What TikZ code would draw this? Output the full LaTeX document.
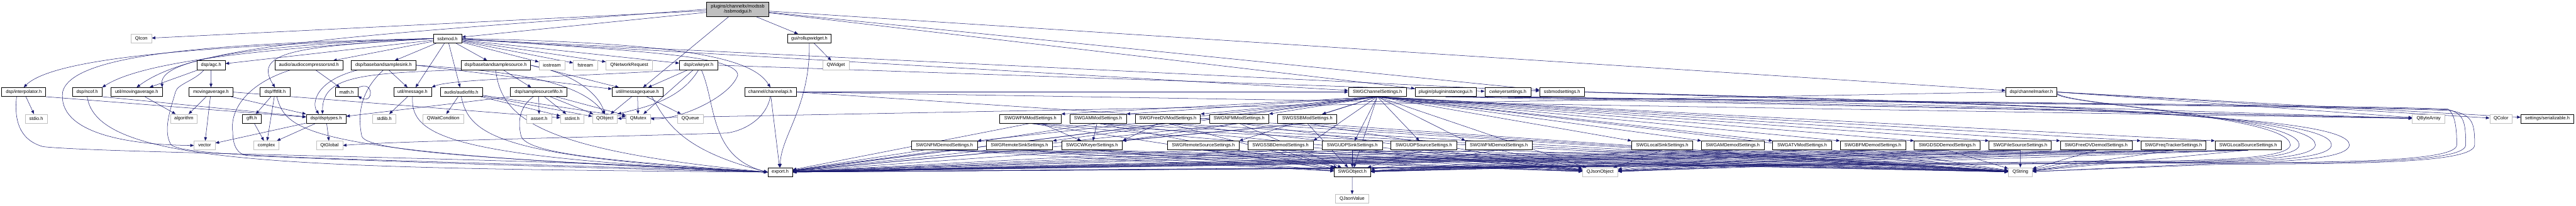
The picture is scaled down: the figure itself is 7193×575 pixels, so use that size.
\documentclass[tikz,border=0pt]{standalone}
\usepackage{fontspec}
\setmainfont{Liberation Sans}
\usetikzlibrary{arrows.meta,backgrounds}
\definecolor{edgec}{HTML}{191970}
\definecolor{extc}{HTML}{BFBFBF}
\newcommand{\dxfont}{\fontsize{13pt}{15.4pt}\selectfont}
\begin{document}
\begin{tikzpicture}[x=1pt,y=-1pt,
 filebox/.style={draw=black, fill=white, line width=1.1pt, minimum height=25pt, inner xsep=0pt, inner ysep=0pt, font=\dxfont, text=black},
 extbox/.style={filebox, draw=extc},
 rootbox/.style={filebox, fill=extc, minimum height=40.3pt, align=center},
 dep/.style={draw=edgec, line width=0.9pt, -{Triangle[length=10pt,width=8pt]}}]
\useasboundingbox (0,0) rectangle (7193,575);
% row 0
\node[rootbox, minimum width=174pt] (gui) at (2060,25.7) {plugins/channeltx/modssb\\/ssbmodgui.h};
% row 1
\node[extbox, minimum width=57pt] (qicon) at (394.5,107.8) {QIcon};
\node[filebox, minimum width=79pt] (ssbmod) at (1249.5,107.8) {ssbmod.h};
\node[filebox, minimum width=122pt] (rollup) at (2260,107.8) {gui/rollupwidget.h};
% row 2
\node[filebox, minimum width=79pt] (agc) at (589.5,182.4) {dsp/agc.h};
\node[filebox, minimum width=189pt] (acomp) at (862.5,182.4) {audio/audiocompressorsnd.h};
\node[filebox, minimum width=180pt] (bbsink) at (1071,182.4) {dsp/basebandsamplesink.h};
\node[filebox, minimum width=194pt] (bbsrc) at (1384,182.4) {dsp/basebandsamplesource.h};
\node[extbox, minimum width=72pt] (iostream) at (1541,182.4) {iostream};
\node[extbox, minimum width=67pt] (fstream) at (1634.5,182.4) {fstream};
\node[extbox, minimum width=130pt] (qnetreq) at (1757,182.4) {QNetworkRequest};
\node[filebox, minimum width=107pt] (cwkeyer) at (1950.5,182.4) {dsp/cwkeyer.h};
\node[extbox, minimum width=74pt] (qwidget) at (2334,182.4) {QWidget};
% row 3
\node[filebox, minimum width=123pt] (interp) at (66.3,257.4) {dsp/interpolator.h};
\node[filebox, minimum width=83pt] (ncof) at (243.5,257.4) {dsp/ncof.h};
\node[filebox, minimum width=143pt] (umavg) at (381.5,257.4) {util/movingaverage.h};
\node[filebox, minimum width=122pt] (mavg) at (589,257.4) {movingaverage.h};
\node[filebox, minimum width=84pt] (fftfilt) at (768,257.4) {dsp/fftfilt.h};
\node[filebox, minimum width=63pt] (math) at (967.5,257.4) {math.h};
\node[filebox, minimum width=106pt] (umsg) at (1152,257.4) {util/message.h};
\node[filebox, minimum width=118pt] (afifo) at (1288,257.4) {audio/audiofifo.h};
\node[filebox, minimum width=158pt] (sfifo) at (1504,257.4) {dsp/samplesourcefifo.h};
\node[filebox, minimum width=142pt] (mq) at (1780,257.4) {util/messagequeue.h};
\node[filebox, minimum width=144pt] (chapi) at (2151,257.4) {channel/channelapi.h};
\node[filebox, minimum width=162pt] (swgchan) at (3846,257.4) {SWGChannelSettings.h};
\node[filebox, minimum width=171pt] (pig) at (4036.5,257.4) {plugin/plugininstancegui.h};
\node[filebox, minimum width=129pt] (cwkset) at (4210.5,257.4) {cwkeyersettings.h};
\node[filebox, minimum width=125pt] (ssbset) at (4361.5,257.4) {ssbmodsettings.h};
\node[filebox, minimum width=143pt] (chmarker) at (5672,257.4) {dsp/channelmarker.h};
% row 4
\node[extbox, minimum width=62pt] (stdio) at (101,331.9) {stdio.h};
\node[extbox, minimum width=75pt] (algorithm) at (513.5,331.9) {algorithm};
\node[filebox, minimum width=52pt] (gfft) at (703,331.9) {gfft.h};
\node[filebox, minimum width=111pt] (dsptypes) at (910.5,331.9) {dsp/dsptypes.h};
\node[extbox, minimum width=64pt] (stdlib) at (1073,331.9) {stdlib.h};
\node[extbox, minimum width=115pt] (qwait) at (1237.5,331.9) {QWaitCondition};
\node[extbox, minimum width=69pt] (assert) at (1505.5,331.9) {assert.h};
\node[extbox, minimum width=65pt] (stdint) at (1597.5,331.9) {stdint.h};
\node[extbox, minimum width=70pt] (qobject) at (1689,331.9) {QObject};
\node[extbox, minimum width=68pt] (qmutex) at (1782,331.9) {QMutex};
\node[extbox, minimum width=71pt] (qqueue) at (1927.5,331.9) {QQueue};
\node[filebox, minimum width=172pt] (swgwfmmod) at (2877,331.9) {SWGWFMModSettings.h};
\node[filebox, minimum width=158pt] (swgammod) at (3066,331.9) {SWGAMModSettings.h};
\node[filebox, minimum width=182pt] (swgfreedvmod) at (3261,331.9) {SWGFreeDVModSettings.h};
\node[filebox, minimum width=166pt] (swgnfmmod) at (3460,331.9) {SWGNFMModSettings.h};
\node[filebox, minimum width=165pt] (swgssbmod) at (3650.5,331.9) {SWGSSBModSettings.h};
\node[extbox, minimum width=91pt] (qbytearray) at (6781.5,331.9) {QByteArray};
\node[extbox, minimum width=63pt] (qcolor) at (6983.5,331.9) {QColor};
\node[filebox, minimum width=148pt] (serial) at (7113,331.9) {settings/serializable.h};
% row 5
\node[extbox, minimum width=59pt] (vector) at (571.5,406.7) {vector};
\node[extbox, minimum width=70pt] (complex) at (744,406.7) {complex};
\node[extbox, minimum width=74pt] (qtglobal) at (920,406.7) {QtGlobal};
\node[filebox, minimum width=184pt] (swgnfmdemod) at (2637,406.7) {SWGNFMDemodSettings.h};
\node[filebox, minimum width=185pt] (swgremotesink) at (2846.5,406.7) {SWGRemoteSinkSettings.h};
\node[filebox, minimum width=170pt] (swgcwkeyer) at (3049,406.7) {SWGCWKeyerSettings.h};
\node[filebox, minimum width=200pt] (swgremotesource) at (3360,406.7) {SWGRemoteSourceSettings.h};
\node[filebox, minimum width=183pt] (swgssbdemod) at (3575.5,406.7) {SWGSSBDemodSettings.h};
\node[filebox, minimum width=168pt] (swgudpsink) at (3776,406.7) {SWGUDPSinkSettings.h};
\node[filebox, minimum width=183pt] (swgudpsource) at (3975.5,406.7) {SWGUDPSourceSettings.h};
\node[filebox, minimum width=186pt] (swgwfmdemod) at (4185,406.7) {SWGWFMDemodSettings.h};
\node[filebox, minimum width=171pt] (swglocalsink) at (4641.5,406.7) {SWGLocalSinkSettings.h};
\node[filebox, minimum width=175pt] (swgamdemod) at (4838.5,406.7) {SWGAMDemodSettings.h};
\node[filebox, minimum width=164pt] (swgatvmod) at (5032,406.7) {SWGATVModSettings.h};
\node[filebox, minimum width=183pt] (swgbfmdemod) at (5229.5,406.7) {SWGBFMDemodSettings.h};
\node[filebox, minimum width=184pt] (swgdsddemod) at (5437,406.7) {SWGDSDDemodSettings.h};
\node[filebox, minimum width=174pt] (swgfilesource) at (5641,406.7) {SWGFileSourceSettings.h};
\node[filebox, minimum width=200pt] (swgfreedvdemod) at (5853,406.7) {SWGFreeDVDemodSettings.h};
\node[filebox, minimum width=182pt] (swgfreqtracker) at (6069,406.7) {SWGFreqTrackerSettings.h};
\node[filebox, minimum width=185pt] (swglocalsource) at (6277.5,406.7) {SWGLocalSourceSettings.h};
% row 6
\node[filebox, minimum width=69pt] (export) at (2178.5,481.3) {export.h};
\node[filebox, minimum width=102pt] (swgobject) at (3776,481.3) {SWGObject.h};
\node[extbox, minimum width=99pt] (qjsonobject) at (4468,481.3) {QJsonObject};
\node[extbox, minimum width=67pt] (qstring) at (5641.5,481.3) {QString};
% row 7
\node[extbox, minimum width=93pt] (qjsonvalue) at (3775.5,556) {QJsonValue};

\begin{scope}[on background layer]
\fill[white] (0,0) rectangle (7193,575);
% root
\draw[dep] (gui) -- (qicon);
\draw[dep] (gui) -- (ssbmod);
\draw[dep] (gui.west) .. controls (1000,100) and (550,120) .. (umavg.north);
\draw[dep] (gui) -- (mq);
\draw[dep] (gui) -- (rollup);
\draw[dep] (gui) -- (pig);
\draw[dep] (gui) -- (ssbset);
\draw[dep] (gui) -- (chmarker);
% ssbmod
\draw[dep] (ssbmod.west) .. controls (700,125) and (160,150) .. (interp.north);
\draw[dep] (ssbmod.west) .. controls (750,135) and (400,170) .. (ncof.north east);
\draw[dep] (ssbmod.west) .. controls (850,120) and (440,150) .. (umavg.north east);
\draw[dep] (ssbmod) -- (agc);
\draw[dep] (ssbmod.west) .. controls (600,120) and (200,150) .. (175,257) .. controls (160,370) and (350,405) .. (vector.west);
\draw[dep] (ssbmod.west) .. controls (850,130) and (700,140) .. (fftfilt.north);
\draw[dep] (ssbmod) -- (acomp);
\draw[dep] (ssbmod) -- (bbsink);
\draw[dep] (ssbmod) -- (umsg);
\draw[dep] (ssbmod) -- (afifo);
\draw[dep] (ssbmod) -- (bbsrc);
\draw[dep] (ssbmod) -- (iostream);
\draw[dep] (ssbmod) -- (fstream);
\draw[dep] (ssbmod) -- (qnetreq);
\draw[dep] (ssbmod) -- (cwkeyer);
\draw[dep] (ssbmod.east) .. controls (1900,120) and (2100,160) .. (chapi.north);
\draw[dep] (ssbmod.east) .. controls (1700,140) and (2060,150) .. (2060,210) .. controls (2040,270) and (1900,335) .. (qmutex.east);
\draw[dep] (ssbmod) -- (ssbset);
\draw[dep] (ssbmod) -- (swgchan);
% agc, moving averages
\draw[dep] (agc) -- (mavg);
\draw[dep] (agc) -- (umavg);
\draw[dep] ([xshift=-20pt]agc.south) .. controls (545,225) and (495,235) .. (490,257) .. controls (478,300) and (455,360) .. (475,400) .. controls (480,440) and (900,440) .. (export.west);
\draw[dep] (mavg) -- (algorithm);
\draw[dep] (mavg) -- (vector);
\draw[dep] (mavg) -- (dsptypes);
\draw[dep] (mavg.east) -- (stdint);
\draw[dep] (umavg) -- (algorithm);
% interpolator, ncof
\draw[dep] (interp) -- (stdio);
\draw[dep] (interp.south east) -- (dsptypes);
\draw[dep] ([xshift=-20pt]interp.south) .. controls (40,330) and (50,390) .. (120,410) .. controls (300,430) and (1500,440) .. (export.west);
\draw[dep] (ncof.south east) -- (dsptypes);
\draw[dep] (ncof.south) .. controls (270,460) and (800,470) .. (export.west);
% fftfilt, gfft, dsptypes
\draw[dep] (fftfilt) -- (gfft);
\draw[dep] (fftfilt) -- (complex);
\draw[dep] ([xshift=5pt]fftfilt.south) .. controls (800,370) and (850,430) .. (export.west);
\draw[dep] (gfft) -- (complex);
\draw[dep] (dsptypes) -- (vector);
\draw[dep] (dsptypes) -- (complex);
\draw[dep] (dsptypes) -- (qtglobal);
% audio compressor, math
\draw[dep] (acomp) -- (math);
\draw[dep] ([xshift=-50pt]acomp.south) .. controls (700,230) and (640,300) .. (650,370) .. controls (650,410) and (665,432) .. (690,435) .. controls (900,445) and (1600,470) .. (export.west);
\draw[dep] (math.20) .. controls +(45,-25) and +(45,25) .. (math.-20);
% baseband sample sink
\draw[dep] ([xshift=-70pt]bbsink.south) .. controls (880,225) and (870,290) .. ([xshift=-20pt]dsptypes.north);
\draw[dep] (bbsink) -- (umsg);
\draw[dep] (bbsink.south) .. controls (1000,260) and (1000,330) .. (1010,380) .. controls (1020,430) and (1500,450) .. (export.west);
\draw[dep] (bbsink.east) .. controls (1450,200) and (1620,230) .. (qobject.north);
\draw[dep] (bbsink.east) -- (mq);
% message
\draw[dep] (umsg) -- (stdlib);
\draw[dep] (umsg.south) .. controls (1145,380) and (1250,440) .. (export.west);
% baseband sample source
\draw[dep] (bbsrc) -- (sfifo);
\draw[dep] (bbsrc.south west) .. controls (1000,205) and (900,215) .. ([xshift=-10pt]dsptypes.north);
\draw[dep] (bbsrc.east) .. controls (1600,205) and (1670,260) .. (qobject.north);
\draw[dep] (bbsrc.east) -- (mq);
\draw[dep] (bbsrc.south) .. controls (1400,330) and (1500,420) .. (export.west);
% sample source fifo
\draw[dep] (sfifo) -- (assert);
\draw[dep] (sfifo) -- (stdint);
\draw[dep] (sfifo) -- (qobject);
\draw[dep] (sfifo) -- (qmutex);
\draw[dep] (sfifo.south west) -- (dsptypes);
\draw[dep] ([xshift=-15pt]sfifo.south) .. controls (1450,300) and (1445,340) .. (1455,380) .. controls (1470,430) and (1700,450) .. (export.west);
% audio fifo
\draw[dep] (afifo) -- (qwait);
\draw[dep] (afifo) -- (stdint);
\draw[dep] (afifo) -- (qobject);
\draw[dep] (afifo) -- (qmutex);
\draw[dep] (afifo.south) .. controls (1310,380) and (1400,440) .. (export.west);
% message queue
\draw[dep] (mq) -- (qobject);
\draw[dep] (mq) -- (qmutex);
\draw[dep] (mq) -- (qqueue);
\draw[dep] ([xshift=40pt]mq.south) .. controls (1860,340) and (1900,420) .. (export.west);
% cw keyer
\draw[dep] (cwkeyer) -- (mq);
\draw[dep] (cwkeyer) -- (qmutex);
\draw[dep] (cwkeyer.south west) .. controls (1600,215) and (1260,220) .. (umsg.north east);
\draw[dep] (cwkeyer.south) .. controls (1900,280) and (1800,300) .. (qobject.north east);
\draw[dep] ([xshift=8pt]cwkeyer.south) .. controls (2000,290) and (1980,440) .. (export.west);
\draw[dep] (cwkeyer.east) -- (cwkset);
% rollup widget
\draw[dep] (rollup) -- (qwidget);
\draw[dep] (rollup.south) .. controls (2262,300) and (2180,380) .. (export.north);
% channel api
\draw[dep] (chapi) -- (swgchan);
\draw[dep] (chapi) -- (export);
\draw[dep] (chapi.south) .. controls (2140,330) and (2080,365) .. (2030,372) .. controls (1600,385) and (1100,395) .. (qtglobal.east);
\draw[dep] (chapi.east) -- (qbytearray);
\draw[dep] (chapi.east) -- (qstring);
% settings, marker, plugin gui
\draw[dep] (pig.south) -- (qbytearray);
\draw[dep] (cwkset.south) -- (qbytearray);
\draw[dep] (ssbset.east) -- (qbytearray);
\draw[dep] (chmarker.east) -- (qbytearray);
\draw[dep] (chmarker.east) -- (qcolor);
\draw[dep] (chmarker.east) -- (serial);
\draw[dep] (chmarker.west) -- (qobject);
% loops around the right end
\draw[dep] (chmarker.east) .. controls (5695,290) and (6395,320) .. (6395,405) .. controls (6395,450) and (6095,452) .. (5795,450) -- (qstring);
\draw[dep] (chmarker.east) .. controls (5720,292) and (6420,322) .. (6420,405) .. controls (6420,452) and (6120,454) .. (5820,452) -- (export);
\draw[dep] (ssbset.east) .. controls (5765,290) and (6465,320) .. (6465,405) .. controls (6465,452) and (6165,455) .. (5865,455) -- (qstring);
\draw[dep] (ssbset.east) .. controls (5810,294) and (6510,324) .. (6510,405) .. controls (6510,454) and (6210,456) .. (5910,454) -- (export);
\draw[dep] (cwkset.south) .. controls (5860,296) and (6560,326) .. (6560,405) .. controls (6560,456) and (6260,458) .. (5960,456) -- (export);
\draw[dep] (pig.south) .. controls (5500,285) and (6600,295) .. (6835,305) .. controls (6850,315) and (6860,340) .. (6860,405) .. controls (6860,450) and (6560,455) .. (6160,455) -- (export);
\draw[dep] (pig.south) .. controls (5500,287) and (6600,297) .. (6838,307) .. controls (6880,318) and (6885,342) .. (6885,405) .. controls (6885,452) and (6585,457) .. (6185,457) -- (qstring);
\draw[dep] (cwkset.south) .. controls (5500,289) and (6600,299) .. (6841,309) .. controls (6905,320) and (6910,344) .. (6910,405) .. controls (6910,454) and (6610,459) .. (6210,459) -- (qstring);
% SWG channel settings
\foreach \t/\a in {swgwfmmod/north east,swgammod/north east,swgfreedvmod/north east,swgnfmmod/north east,swgnfmdemod/north east,swgremotesink/north east,swgremotesource/north east,swgssbdemod/north east,swgwfmdemod/north west,swglocalsink/north west,swgamdemod/north west,swgatvmod/north west,swgbfmdemod/north west,swgdsddemod/north west,swgfilesource/north west,swgfreedvdemod/north west,swgfreqtracker/north west,swglocalsource/north west}{\draw[dep] (swgchan.south) -- (\t.\a);}
\foreach \t in {swgssbmod,swgudpsink,swgudpsource,qjsonobject,qstring,swgobject,export}{\draw[dep] (swgchan.south) -- (\t);}
% SWG leaves
\foreach \s in {swgwfmmod,swgammod,swgfreedvmod,swgnfmmod,swgssbmod,swgnfmdemod,swgremotesink,swgcwkeyer,swgremotesource,swgssbdemod,swgudpsink,swgudpsource,swgwfmdemod,swglocalsink,swgamdemod,swgatvmod,swgbfmdemod,swgdsddemod,swgfilesource,swgfreedvdemod,swgfreqtracker,swglocalsource}{%
\draw[dep] (\s.south) -- (qjsonobject);
\draw[dep] (\s.south) -- (qstring);
\draw[dep] (\s.south) -- (swgobject);
\draw[dep] (\s.south) -- (export);
}
\draw[dep] (swgwfmmod) -- (swgcwkeyer);
\draw[dep] (swgammod) -- (swgcwkeyer);
\draw[dep] (swgfreedvmod) -- (swgcwkeyer.north east);
\draw[dep] (swgnfmmod.south) -- (swgcwkeyer.north east);
\draw[dep] (swgssbmod.south) -- (swgcwkeyer.north east);
\draw[dep] (swgobject) -- (qjsonvalue);
\end{scope}
\end{tikzpicture}
\end{document}
